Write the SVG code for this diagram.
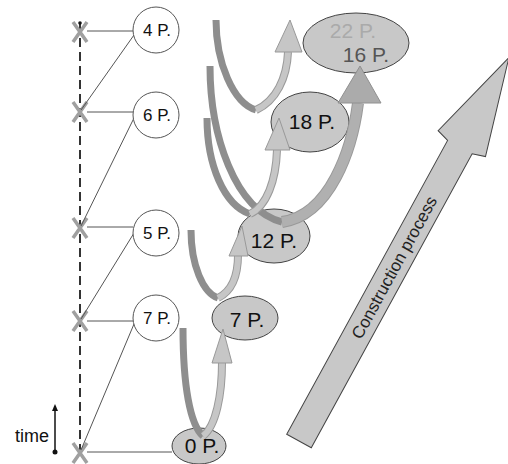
<svg xmlns="http://www.w3.org/2000/svg" width="508" height="464" viewBox="0 0 508 464">
<defs>
<style>
text{font-family:"Liberation Sans",Arial,sans-serif;}
.xm{stroke:#a0a0a0;stroke-width:3.5;fill:none;}
.ln{stroke:#555;stroke-width:1;fill:none;}
.circ{fill:#fff;stroke:#555;stroke-width:1;}
.ell{fill:#c8c8c8;stroke:#444;stroke-width:1;}
.ct{font-size:17px;fill:#111;text-anchor:middle;}
.et{font-size:21px;fill:#111;text-anchor:middle;}
.dark{stroke:#8e8e8e;stroke-width:7;fill:none;}
.lightO{stroke:#9a9a9a;stroke-width:8;fill:none;}
.light{stroke:#c6c6c6;stroke-width:6;fill:none;}
.head{fill:#c6c6c6;stroke:#999;stroke-width:1;}
</style>
</defs>
<rect width="508" height="464" fill="#fff"/>

<g id="timeline">
<line x1="80" y1="24" x2="80" y2="452" stroke="#333" stroke-width="2" stroke-dasharray="9,5"/>
<circle cx="80" cy="23" r="1.8" fill="#111"/>
<path class="xm" d="M73,22 L87,42 M87,22 L73,42"/>
<path class="xm" d="M73,102 L87,122 M87,102 L73,122"/>
<path class="xm" d="M73,218 L87,238 M87,218 L73,238"/>
<path class="xm" d="M73,311 L87,331 M87,311 L73,331"/>
<path class="xm" d="M73,443 L87,463 M87,443 L73,463"/>
</g>

<g id="time-legend">
<text x="49" y="442" font-size="18" fill="#111" text-anchor="end">time</text>
<line x1="55" y1="452" x2="55" y2="410" stroke="#111" stroke-width="1.5"/>
<path d="M52,411 L55,404 L58,411 Z" fill="#111"/>
<circle cx="55" cy="452" r="2.5" fill="#111"/>
</g>

<g id="connectors">
<line class="ln" x1="87" y1="31" x2="133" y2="31"/>
<line class="ln" x1="134" y1="35" x2="81" y2="110"/>
<line class="ln" x1="87" y1="112" x2="133" y2="112"/>
<line class="ln" x1="134" y1="118" x2="81" y2="226"/>
<line class="ln" x1="87" y1="227" x2="133" y2="227"/>
<line class="ln" x1="134" y1="233" x2="81" y2="319"/>
<line class="ln" x1="87" y1="321" x2="133" y2="321"/>
<line class="ln" x1="134" y1="324" x2="81" y2="450"/>
<line class="ln" x1="87" y1="452" x2="172" y2="452"/>
</g>

<g id="c4"><circle class="circ" cx="156" cy="30" r="23"/><text class="ct" x="157" y="36">4 P.</text></g>
<g id="c6"><circle class="circ" cx="156" cy="115" r="23"/><text class="ct" x="157" y="121">6 P.</text></g>
<g id="c5"><circle class="circ" cx="156" cy="233" r="23"/><text class="ct" x="157" y="239">5 P.</text></g>
<g id="c7"><circle class="circ" cx="156" cy="318" r="23"/><text class="ct" x="157" y="324">7 P.</text></g>

<g id="e0"><ellipse class="ell" cx="199" cy="446" rx="27" ry="18"/></g>
<g id="e7"><ellipse class="ell" cx="245" cy="318" rx="33" ry="22"/></g>
<g id="e12"><ellipse class="ell" cx="274" cy="236" rx="36" ry="27"/></g>
<g id="e18"><ellipse class="ell" cx="310" cy="122" rx="39" ry="30"/></g>
<g id="e22"><ellipse class="ell" cx="356" cy="43" rx="53" ry="30"/></g>

<g id="arcs">
<path class="dark" d="M183,328 C183,385 190,425 203,436"/>
<path class="lightO" d="M203,436 C216,426 222,395 222,362"/>
<path class="light" d="M203,436 C216,426 222,395 222,362"/>
<polygon class="head" points="212,363 232,363 223,329"/>
<path class="dark" d="M191,230 C191,265 203,293 218,298"/>
<path class="lightO" d="M218,298 C232,291 238,275 238,255"/>
<path class="light" d="M218,298 C232,291 238,275 238,255"/>
<polygon class="head" points="229,256 248,256 242,226"/>
<path class="dark" d="M207,118 C207,165 224,205 250,214" stroke="#a2a2a2"/>
<path class="dark" d="M210,66 C210,135 235,210 282,222" stroke-width="8"/>
<path class="lightO" d="M250,214 C267,206 276,180 277,150"/>
<path class="light" d="M250,214 C267,206 276,180 277,150"/>
<polygon class="head" points="265,150 290,150 279,118"/>
<path d="M282,222 C330,215 352,150 358,103" stroke="#999" stroke-width="12" fill="none"/>
<path d="M282,222 C330,215 352,150 358,103" stroke="#b0b0b0" stroke-width="10" fill="none"/>
<polygon points="338,103 381,103 360,66" fill="#ababab" stroke="#909090" stroke-width="1"/>
<path class="dark" d="M216,20 C216,62 233,103 256,110" stroke-width="8"/>
<path class="lightO" d="M256,110 C276,101 287,78 288,52"/>
<path class="light" d="M256,110 C276,101 287,78 288,52"/>
<polygon class="head" points="275,52 302,52 290,20"/>
</g>

<g id="labels">
<text class="et" x="202" y="453">0 P.</text>
<text class="et" x="247" y="327">7 P.</text>
<text class="et" x="274" y="248">12 P.</text>
<text class="et" x="312" y="129">18 P.</text>
<text class="et" x="353" y="38" style="fill:#aaa">22 P.</text>
<text class="et" x="366" y="62" style="fill:#555">16 P.</text>
</g>

<g id="construction" transform="translate(299,441) rotate(-61.3)">
<polygon points="0,-14 335,-14 339,-27 437,0 339,27 335,14 0,14" fill="#c8c8c8" stroke="#444" stroke-width="1"/>
<text x="198" y="6" font-size="17" fill="#222" text-anchor="middle">Construction process</text>
</g>
</svg>
